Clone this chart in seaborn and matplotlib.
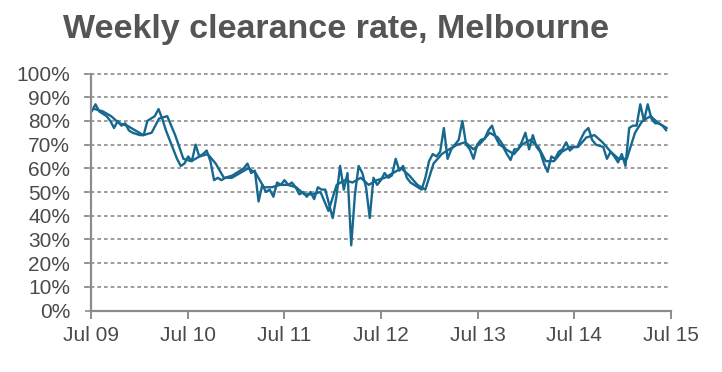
import numpy as np
import pandas as pd
import seaborn as sns
import matplotlib.pyplot as plt
from matplotlib.ticker import PercentFormatter

# fortnightly clearance rate readings (%), from Jul 2009
weekly = [84, 87, 84, 83, 82, 80, 77, 80, 78, 79, 76, 75, 74.5,
          74, 74, 80, 81, 82, 85, 81, 76, 72, 68, 64, 61, 62,
          65, 63, 70, 65, 66, 67.5, 63, 55, 56, 55, 56, 56.5, 57,
          58, 59, 60, 62, 58, 59, 46, 53, 50, 51, 48, 54, 53,
          55, 53, 54, 52, 49, 50, 48, 50, 47, 52, 51, 51, 45,
          39, 48, 61, 51, 58, 27.5, 49, 61, 58, 52, 39, 56, 53,
          55, 58, 56, 57, 64, 59, 61, 56, 54, 53, 52, 51, 56,
          63, 66, 65, 67, 77, 64, 68, 70, 72, 80, 70, 68, 64,
          70, 72, 72.5, 76, 78, 73, 70, 69, 66, 63.5, 68, 68, 71,
          75, 68, 74, 69, 67, 62, 58.5, 65, 64, 67, 68, 71, 67.5,
          69, 69, 72.5, 75.5, 77, 72, 70, 69.5, 69, 64, 67, 65, 62.5,
          66, 61, 77, 78, 78, 87, 80, 87, 81, 79, 79, 78, 76]

# smoothed (monthly) trend, Jul 2009 - Jun 2015
trend = [85, 84, 82, 79, 78, 76, 74, 75, 81, 82, 74, 64,
         63, 65, 66, 62, 56, 56, 58, 60, 58, 52, 52, 53,
         53, 52, 49, 49, 50, 42, 53, 55, 54, 56, 53, 55,
         56, 58, 60, 57, 53, 51, 62, 66, 68, 70, 71, 68,
         71, 75, 73, 68, 66, 70, 72, 69, 63, 63, 67, 69,
         69, 73, 74, 71, 67, 64, 64, 75, 80, 82, 79, 77]

tick_years = list(range(2009, 2016))

weekly_dates = pd.date_range('2009-07-04', periods=len(weekly), freq='14D')
trend_dates = pd.date_range('2009-07-01', periods=len(trend), freq='MS') + pd.Timedelta(days=14)
df_w = pd.DataFrame({'date': weekly_dates, 'rate': np.array(weekly) / 100})
df_t = pd.DataFrame({'date': trend_dates, 'rate': np.array(trend) / 100})

sns.set_style('white')
plt.rcParams['font.family'] = ['Liberation Sans', 'DejaVu Sans']

blue = '#17688f'
grey = '#8c8c8c'
txt = '#4a4a4a'

fig = plt.figure(figsize=(7.22, 3.72), dpi=100)
ax = fig.add_axes([91/722, 61.5/372, 580/722, 237/372])

sns.lineplot(data=df_w, x='date', y='rate', color=blue, lw=1.7, ax=ax)
sns.lineplot(data=df_t, x='date', y='rate', color=blue, lw=1.7, ax=ax)

ax.set_xlim(pd.Timestamp('2009-07-01'), pd.Timestamp('2015-07-01'))
ax.set_ylim(0, 1.0)
ax.set_yticks(np.arange(0, 1.01, 0.1))
ax.yaxis.set_major_formatter(PercentFormatter(1.0, decimals=0))
ax.set_xticks([pd.Timestamp(f'{y}-07-01') for y in tick_years])
ax.set_xticklabels([f'Jul {y % 100:02d}' for y in tick_years])

for v in np.arange(0.1, 1.01, 0.1):
    ax.axhline(v, xmin=-0.012, xmax=0.995, color=grey, lw=1.2,
               linestyle=(0, (2.2, 1.8)), clip_on=False, zorder=0)

for s in ['top', 'right']:
    ax.spines[s].set_visible(False)
for s in ['left', 'bottom']:
    ax.spines[s].set_color(grey)
    ax.spines[s].set_linewidth(1.6)

ax.tick_params(axis='x', length=6, width=1.4, color=grey, pad=5,
               labelsize=15, labelcolor=txt, direction='out', bottom=True)
ax.tick_params(axis='y', length=4, width=1.2, color=grey, pad=11,
               labelsize=15, labelcolor=txt, direction='out', left=True)
ax.set_xlabel('')
ax.set_ylabel('')

fig.text(63/722, 1 - 38/372, 'Weekly clearance rate, Melbourne',
         fontsize=24.5, fontweight='bold', color='#555555', va='baseline', ha='left')

fig.savefig('out.png', dpi=100)
